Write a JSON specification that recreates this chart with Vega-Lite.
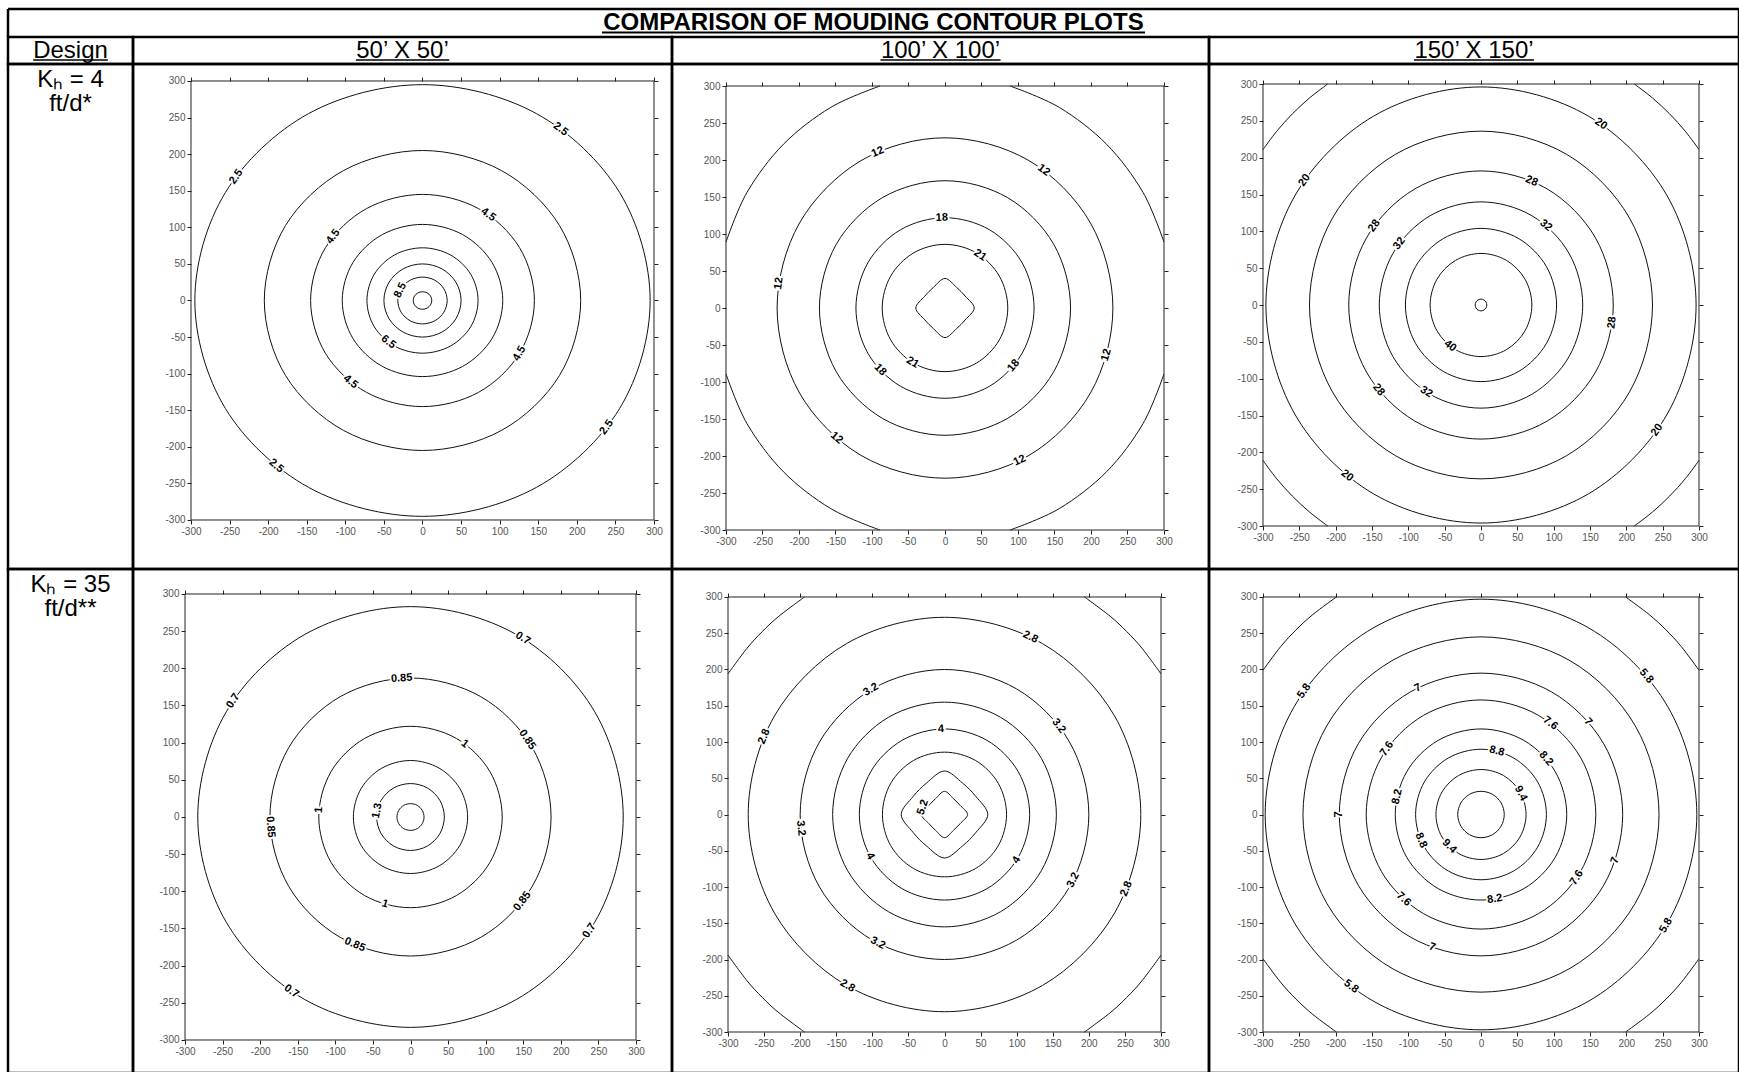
{
"$schema": "https://vega.github.io/schema/vega-lite/v6.json",
"padding": {"left": 6, "top": 7, "right": 0, "bottom": 0},
"background": "white",
"config": {
  "view": {"stroke": "#000", "strokeWidth": 2.5},
  "font": "Liberation Sans",
  "concat": {"spacing": 0},
  "axis": {"domain": false, "grid": false, "ticks": true, "tickSize": 4, "tickColor": "#222", "tickWidth": 1, "labelFontSize": 10, "labelColor": "#555", "labelFont": "Liberation Sans", "labelPadding": 2, "labelFlush": false, "labelOverlap": false, "zindex": 1}
},
"datasets": {
"f": [{"x1": -300, "x2": 300, "y1": -300, "y2": 300}],
"c1": [
{"c":"9.5","i":0,"x":12,"y":0},{"c":"9.5","i":1,"x":10.4,"y":6},{"c":"9.5","i":2,"x":6,"y":10.4},{"c":"9.5","i":3,"x":0,"y":12},{"c":"9.5","i":4,"x":-6,"y":10.4},{"c":"9.5","i":5,"x":-10.4,"y":6},{"c":"9.5","i":6,"x":-12,"y":0},{"c":"9.5","i":7,"x":-10.4,"y":-6},{"c":"9.5","i":8,"x":-6,"y":-10.4},{"c":"9.5","i":9,"x":0,"y":-12},{"c":"9.5","i":10,"x":6,"y":-10.4},{"c":"9.5","i":11,"x":10.4,"y":-6},
{"c":"8.5","i":0,"x":32,"y":0},{"c":"8.5","i":1,"x":27.7,"y":16},{"c":"8.5","i":2,"x":16,"y":27.7},{"c":"8.5","i":3,"x":0,"y":32},{"c":"8.5","i":4,"x":-16,"y":27.7},{"c":"8.5","i":5,"x":-27.7,"y":16},{"c":"8.5","i":6,"x":-32,"y":0},{"c":"8.5","i":7,"x":-27.7,"y":-16},{"c":"8.5","i":8,"x":-16,"y":-27.7},{"c":"8.5","i":9,"x":0,"y":-32},{"c":"8.5","i":10,"x":16,"y":-27.7},{"c":"8.5","i":11,"x":27.7,"y":-16},
{"c":"7.5","i":0,"x":50,"y":0},{"c":"7.5","i":1,"x":43.3,"y":25},{"c":"7.5","i":2,"x":25,"y":43.3},{"c":"7.5","i":3,"x":0,"y":50},{"c":"7.5","i":4,"x":-25,"y":43.3},{"c":"7.5","i":5,"x":-43.3,"y":25},{"c":"7.5","i":6,"x":-50,"y":0},{"c":"7.5","i":7,"x":-43.3,"y":-25},{"c":"7.5","i":8,"x":-25,"y":-43.3},{"c":"7.5","i":9,"x":0,"y":-50},{"c":"7.5","i":10,"x":25,"y":-43.3},{"c":"7.5","i":11,"x":43.3,"y":-25},
{"c":"6.5","i":0,"x":72,"y":0},{"c":"6.5","i":1,"x":62.4,"y":36},{"c":"6.5","i":2,"x":36,"y":62.4},{"c":"6.5","i":3,"x":0,"y":72},{"c":"6.5","i":4,"x":-36,"y":62.4},{"c":"6.5","i":5,"x":-62.4,"y":36},{"c":"6.5","i":6,"x":-72,"y":0},{"c":"6.5","i":7,"x":-62.4,"y":-36},{"c":"6.5","i":8,"x":-36,"y":-62.4},{"c":"6.5","i":9,"x":0,"y":-72},{"c":"6.5","i":10,"x":36,"y":-62.4},{"c":"6.5","i":11,"x":62.4,"y":-36},
{"c":"5.5","i":0,"x":104,"y":0},{"c":"5.5","i":1,"x":90.1,"y":52},{"c":"5.5","i":2,"x":52,"y":90.1},{"c":"5.5","i":3,"x":0,"y":104},{"c":"5.5","i":4,"x":-52,"y":90.1},{"c":"5.5","i":5,"x":-90.1,"y":52},{"c":"5.5","i":6,"x":-104,"y":0},{"c":"5.5","i":7,"x":-90.1,"y":-52},{"c":"5.5","i":8,"x":-52,"y":-90.1},{"c":"5.5","i":9,"x":0,"y":-104},{"c":"5.5","i":10,"x":52,"y":-90.1},{"c":"5.5","i":11,"x":90.1,"y":-52},
{"c":"4.5","i":0,"x":145,"y":0},{"c":"4.5","i":1,"x":125.6,"y":72.5},{"c":"4.5","i":2,"x":72.5,"y":125.6},{"c":"4.5","i":3,"x":0,"y":145},{"c":"4.5","i":4,"x":-72.5,"y":125.6},{"c":"4.5","i":5,"x":-125.6,"y":72.5},{"c":"4.5","i":6,"x":-145,"y":0},{"c":"4.5","i":7,"x":-125.6,"y":-72.5},{"c":"4.5","i":8,"x":-72.5,"y":-125.6},{"c":"4.5","i":9,"x":0,"y":-145},{"c":"4.5","i":10,"x":72.5,"y":-125.6},{"c":"4.5","i":11,"x":125.6,"y":-72.5},
{"c":"3.5","i":0,"x":205,"y":0},{"c":"3.5","i":1,"x":177.5,"y":102.5},{"c":"3.5","i":2,"x":102.5,"y":177.5},{"c":"3.5","i":3,"x":0,"y":205},{"c":"3.5","i":4,"x":-102.5,"y":177.5},{"c":"3.5","i":5,"x":-177.5,"y":102.5},{"c":"3.5","i":6,"x":-205,"y":0},{"c":"3.5","i":7,"x":-177.5,"y":-102.5},{"c":"3.5","i":8,"x":-102.5,"y":-177.5},{"c":"3.5","i":9,"x":0,"y":-205},{"c":"3.5","i":10,"x":102.5,"y":-177.5},{"c":"3.5","i":11,"x":177.5,"y":-102.5},
{"c":"2.5","i":0,"x":295,"y":0},{"c":"2.5","i":1,"x":255.5,"y":147.5},{"c":"2.5","i":2,"x":147.5,"y":255.5},{"c":"2.5","i":3,"x":0,"y":295},{"c":"2.5","i":4,"x":-147.5,"y":255.5},{"c":"2.5","i":5,"x":-255.5,"y":147.5},{"c":"2.5","i":6,"x":-295,"y":0},{"c":"2.5","i":7,"x":-255.5,"y":-147.5},{"c":"2.5","i":8,"x":-147.5,"y":-255.5},{"c":"2.5","i":9,"x":0,"y":-295},{"c":"2.5","i":10,"x":147.5,"y":-255.5},{"c":"2.5","i":11,"x":255.5,"y":-147.5}
],
"l1": [
{"t":"2.5","x":-241.4,"y":169.2},{"t":"2.5","x":179.1,"y":234.2},{"t":"2.5","x":238.6,"y":-173.3},{"t":"2.5","x":-189.6,"y":-226},
{"t":"4.5","x":-115.8,"y":87.3},{"t":"4.5","x":85.2,"y":117.3},{"t":"4.5","x":125.6,"y":-72.5},{"t":"4.5","x":-93.2,"y":-111.1},
{"t":"6.5","x":-44.3,"y":-56.7},{"t":"8.5","x":-28.8,"y":14}
],
"c2": [
{"c":"24","i":0,"x":40,"y":0},{"c":"24","i":1,"x":27.7,"y":16},{"c":"24","i":2,"x":16,"y":27.7},{"c":"24","i":3,"x":0,"y":40},{"c":"24","i":4,"x":-16,"y":27.7},{"c":"24","i":5,"x":-27.7,"y":16},{"c":"24","i":6,"x":-40,"y":0},{"c":"24","i":7,"x":-27.7,"y":-16},{"c":"24","i":8,"x":-16,"y":-27.7},{"c":"24","i":9,"x":0,"y":-40},{"c":"24","i":10,"x":16,"y":-27.7},{"c":"24","i":11,"x":27.7,"y":-16},
{"c":"21","i":0,"x":86,"y":0},{"c":"21","i":1,"x":74.5,"y":43},{"c":"21","i":2,"x":43,"y":74.5},{"c":"21","i":3,"x":0,"y":86},{"c":"21","i":4,"x":-43,"y":74.5},{"c":"21","i":5,"x":-74.5,"y":43},{"c":"21","i":6,"x":-86,"y":0},{"c":"21","i":7,"x":-74.5,"y":-43},{"c":"21","i":8,"x":-43,"y":-74.5},{"c":"21","i":9,"x":0,"y":-86},{"c":"21","i":10,"x":43,"y":-74.5},{"c":"21","i":11,"x":74.5,"y":-43},
{"c":"18","i":0,"x":122,"y":0},{"c":"18","i":1,"x":105.7,"y":61},{"c":"18","i":2,"x":61,"y":105.7},{"c":"18","i":3,"x":0,"y":122},{"c":"18","i":4,"x":-61,"y":105.7},{"c":"18","i":5,"x":-105.7,"y":61},{"c":"18","i":6,"x":-122,"y":0},{"c":"18","i":7,"x":-105.7,"y":-61},{"c":"18","i":8,"x":-61,"y":-105.7},{"c":"18","i":9,"x":0,"y":-122},{"c":"18","i":10,"x":61,"y":-105.7},{"c":"18","i":11,"x":105.7,"y":-61},
{"c":"15","i":0,"x":172,"y":0},{"c":"15","i":1,"x":149,"y":86},{"c":"15","i":2,"x":86,"y":149},{"c":"15","i":3,"x":0,"y":172},{"c":"15","i":4,"x":-86,"y":149},{"c":"15","i":5,"x":-149,"y":86},{"c":"15","i":6,"x":-172,"y":0},{"c":"15","i":7,"x":-149,"y":-86},{"c":"15","i":8,"x":-86,"y":-149},{"c":"15","i":9,"x":0,"y":-172},{"c":"15","i":10,"x":86,"y":-149},{"c":"15","i":11,"x":149,"y":-86},
{"c":"12","i":0,"x":230,"y":0},{"c":"12","i":1,"x":199.2,"y":115},{"c":"12","i":2,"x":115,"y":199.2},{"c":"12","i":3,"x":0,"y":230},{"c":"12","i":4,"x":-115,"y":199.2},{"c":"12","i":5,"x":-199.2,"y":115},{"c":"12","i":6,"x":-230,"y":0},{"c":"12","i":7,"x":-199.2,"y":-115},{"c":"12","i":8,"x":-115,"y":-199.2},{"c":"12","i":9,"x":0,"y":-230},{"c":"12","i":10,"x":115,"y":-199.2},{"c":"12","i":11,"x":199.2,"y":-115}
],
"a2": [
{"c":"q1","i":0,"x":300,"y":89},{"c":"q1","i":1,"x":271.1,"y":156.5},{"c":"q1","i":2,"x":221.3,"y":221.3},{"c":"q1","i":3,"x":156.5,"y":271.1},{"c":"q1","i":4,"x":89,"y":300},
{"c":"q2","i":0,"x":-300,"y":89},{"c":"q2","i":1,"x":-271.1,"y":156.5},{"c":"q2","i":2,"x":-221.3,"y":221.3},{"c":"q2","i":3,"x":-156.5,"y":271.1},{"c":"q2","i":4,"x":-89,"y":300},
{"c":"q3","i":0,"x":-300,"y":-89},{"c":"q3","i":1,"x":-271.1,"y":-156.5},{"c":"q3","i":2,"x":-221.3,"y":-221.3},{"c":"q3","i":3,"x":-156.5,"y":-271.1},{"c":"q3","i":4,"x":-89,"y":-300},
{"c":"q4","i":0,"x":300,"y":-89},{"c":"q4","i":1,"x":271.1,"y":-156.5},{"c":"q4","i":2,"x":221.3,"y":-221.3},{"c":"q4","i":3,"x":156.5,"y":-271.1},{"c":"q4","i":4,"x":89,"y":-300}
],
"l2": [
{"t":"12","x":-92.1,"y":210.8},{"t":"12","x":135.2,"y":186.1},{"t":"12","x":-227.6,"y":33.2},{"t":"12","x":221.1,"y":-63.4},{"t":"12","x":-148.5,"y":-175.7},{"t":"12","x":102.3,"y":-206},
{"t":"18","x":-4.3,"y":121.9},{"t":"18","x":-88.9,"y":-83.5},{"t":"18","x":94,"y":-77.8},
{"t":"21","x":48.1,"y":71.3},{"t":"21","x":-44.3,"y":-73.7}
],
"c3": [
{"c":"44","i":0,"x":8,"y":0},{"c":"44","i":1,"x":6.9,"y":4},{"c":"44","i":2,"x":4,"y":6.9},{"c":"44","i":3,"x":0,"y":8},{"c":"44","i":4,"x":-4,"y":6.9},{"c":"44","i":5,"x":-6.9,"y":4},{"c":"44","i":6,"x":-8,"y":0},{"c":"44","i":7,"x":-6.9,"y":-4},{"c":"44","i":8,"x":-4,"y":-6.9},{"c":"44","i":9,"x":0,"y":-8},{"c":"44","i":10,"x":4,"y":-6.9},{"c":"44","i":11,"x":6.9,"y":-4},
{"c":"40","i":0,"x":70,"y":0},{"c":"40","i":1,"x":60.6,"y":35},{"c":"40","i":2,"x":35,"y":60.6},{"c":"40","i":3,"x":0,"y":70},{"c":"40","i":4,"x":-35,"y":60.6},{"c":"40","i":5,"x":-60.6,"y":35},{"c":"40","i":6,"x":-70,"y":0},{"c":"40","i":7,"x":-60.6,"y":-35},{"c":"40","i":8,"x":-35,"y":-60.6},{"c":"40","i":9,"x":0,"y":-70},{"c":"40","i":10,"x":35,"y":-60.6},{"c":"40","i":11,"x":60.6,"y":-35},
{"c":"36","i":0,"x":104,"y":0},{"c":"36","i":1,"x":90.1,"y":52},{"c":"36","i":2,"x":52,"y":90.1},{"c":"36","i":3,"x":0,"y":104},{"c":"36","i":4,"x":-52,"y":90.1},{"c":"36","i":5,"x":-90.1,"y":52},{"c":"36","i":6,"x":-104,"y":0},{"c":"36","i":7,"x":-90.1,"y":-52},{"c":"36","i":8,"x":-52,"y":-90.1},{"c":"36","i":9,"x":0,"y":-104},{"c":"36","i":10,"x":52,"y":-90.1},{"c":"36","i":11,"x":90.1,"y":-52},
{"c":"32","i":0,"x":140,"y":0},{"c":"32","i":1,"x":121.2,"y":70},{"c":"32","i":2,"x":70,"y":121.2},{"c":"32","i":3,"x":0,"y":140},{"c":"32","i":4,"x":-70,"y":121.2},{"c":"32","i":5,"x":-121.2,"y":70},{"c":"32","i":6,"x":-140,"y":0},{"c":"32","i":7,"x":-121.2,"y":-70},{"c":"32","i":8,"x":-70,"y":-121.2},{"c":"32","i":9,"x":0,"y":-140},{"c":"32","i":10,"x":70,"y":-121.2},{"c":"32","i":11,"x":121.2,"y":-70},
{"c":"28","i":0,"x":182,"y":0},{"c":"28","i":1,"x":157.6,"y":91},{"c":"28","i":2,"x":91,"y":157.6},{"c":"28","i":3,"x":0,"y":182},{"c":"28","i":4,"x":-91,"y":157.6},{"c":"28","i":5,"x":-157.6,"y":91},{"c":"28","i":6,"x":-182,"y":0},{"c":"28","i":7,"x":-157.6,"y":-91},{"c":"28","i":8,"x":-91,"y":-157.6},{"c":"28","i":9,"x":0,"y":-182},{"c":"28","i":10,"x":91,"y":-157.6},{"c":"28","i":11,"x":157.6,"y":-91},
{"c":"24","i":0,"x":236,"y":0},{"c":"24","i":1,"x":204.4,"y":118},{"c":"24","i":2,"x":118,"y":204.4},{"c":"24","i":3,"x":0,"y":236},{"c":"24","i":4,"x":-118,"y":204.4},{"c":"24","i":5,"x":-204.4,"y":118},{"c":"24","i":6,"x":-236,"y":0},{"c":"24","i":7,"x":-204.4,"y":-118},{"c":"24","i":8,"x":-118,"y":-204.4},{"c":"24","i":9,"x":0,"y":-236},{"c":"24","i":10,"x":118,"y":-204.4},{"c":"24","i":11,"x":204.4,"y":-118},
{"c":"20","i":0,"x":296,"y":0},{"c":"20","i":1,"x":256.3,"y":148},{"c":"20","i":2,"x":148,"y":256.3},{"c":"20","i":3,"x":0,"y":296},{"c":"20","i":4,"x":-148,"y":256.3},{"c":"20","i":5,"x":-256.3,"y":148},{"c":"20","i":6,"x":-296,"y":0},{"c":"20","i":7,"x":-256.3,"y":-148},{"c":"20","i":8,"x":-148,"y":-256.3},{"c":"20","i":9,"x":0,"y":-296},{"c":"20","i":10,"x":148,"y":-256.3},{"c":"20","i":11,"x":256.3,"y":-148}
],
"a3": [
{"c":"q1","i":0,"x":300,"y":211},{"c":"q1","i":1,"x":281.1,"y":235.9},{"c":"q1","i":2,"x":259.5,"y":259.5},{"c":"q1","i":3,"x":235.9,"y":281.1},{"c":"q1","i":4,"x":211,"y":300},
{"c":"q2","i":0,"x":-300,"y":211},{"c":"q2","i":1,"x":-281.1,"y":235.9},{"c":"q2","i":2,"x":-259.5,"y":259.5},{"c":"q2","i":3,"x":-235.9,"y":281.1},{"c":"q2","i":4,"x":-211,"y":300},
{"c":"q3","i":0,"x":-300,"y":-211},{"c":"q3","i":1,"x":-281.1,"y":-235.9},{"c":"q3","i":2,"x":-259.5,"y":-259.5},{"c":"q3","i":3,"x":-235.9,"y":-281.1},{"c":"q3","i":4,"x":-211,"y":-300},
{"c":"q4","i":0,"x":300,"y":-211},{"c":"q4","i":1,"x":281.1,"y":-235.9},{"c":"q4","i":2,"x":259.5,"y":-259.5},{"c":"q4","i":3,"x":235.9,"y":-281.1},{"c":"q4","i":4,"x":211,"y":-300}
],
"l3": [
{"t":"20","x":165.2,"y":245.7},{"t":"20","x":-242.7,"y":169.3},{"t":"20","x":-184.3,"y":-231.6},{"t":"20","x":242.4,"y":-169.8},
{"t":"28","x":69.6,"y":168.1},{"t":"28","x":-146.9,"y":107.5},{"t":"28","x":180.4,"y":-23.8},{"t":"28","x":-140.9,"y":-115.3},
{"t":"32","x":-112.4,"y":83.5},{"t":"32","x":89.2,"y":107.9},{"t":"32","x":-75.2,"y":-118.1},
{"t":"40","x":-42.4,"y":-55.6}
],
"c4": [
{"c":"1.45","i":0,"x":18,"y":0},{"c":"1.45","i":1,"x":15.6,"y":9},{"c":"1.45","i":2,"x":9,"y":15.6},{"c":"1.45","i":3,"x":0,"y":18},{"c":"1.45","i":4,"x":-9,"y":15.6},{"c":"1.45","i":5,"x":-15.6,"y":9},{"c":"1.45","i":6,"x":-18,"y":0},{"c":"1.45","i":7,"x":-15.6,"y":-9},{"c":"1.45","i":8,"x":-9,"y":-15.6},{"c":"1.45","i":9,"x":0,"y":-18},{"c":"1.45","i":10,"x":9,"y":-15.6},{"c":"1.45","i":11,"x":15.6,"y":-9},
{"c":"1.3","i":0,"x":45,"y":0},{"c":"1.3","i":1,"x":39,"y":22.5},{"c":"1.3","i":2,"x":22.5,"y":39},{"c":"1.3","i":3,"x":0,"y":45},{"c":"1.3","i":4,"x":-22.5,"y":39},{"c":"1.3","i":5,"x":-39,"y":22.5},{"c":"1.3","i":6,"x":-45,"y":0},{"c":"1.3","i":7,"x":-39,"y":-22.5},{"c":"1.3","i":8,"x":-22.5,"y":-39},{"c":"1.3","i":9,"x":0,"y":-45},{"c":"1.3","i":10,"x":22.5,"y":-39},{"c":"1.3","i":11,"x":39,"y":-22.5},
{"c":"1.15","i":0,"x":76,"y":0},{"c":"1.15","i":1,"x":65.8,"y":38},{"c":"1.15","i":2,"x":38,"y":65.8},{"c":"1.15","i":3,"x":0,"y":76},{"c":"1.15","i":4,"x":-38,"y":65.8},{"c":"1.15","i":5,"x":-65.8,"y":38},{"c":"1.15","i":6,"x":-76,"y":0},{"c":"1.15","i":7,"x":-65.8,"y":-38},{"c":"1.15","i":8,"x":-38,"y":-65.8},{"c":"1.15","i":9,"x":0,"y":-76},{"c":"1.15","i":10,"x":38,"y":-65.8},{"c":"1.15","i":11,"x":65.8,"y":-38},
{"c":"1","i":0,"x":122,"y":0},{"c":"1","i":1,"x":105.7,"y":61},{"c":"1","i":2,"x":61,"y":105.7},{"c":"1","i":3,"x":0,"y":122},{"c":"1","i":4,"x":-61,"y":105.7},{"c":"1","i":5,"x":-105.7,"y":61},{"c":"1","i":6,"x":-122,"y":0},{"c":"1","i":7,"x":-105.7,"y":-61},{"c":"1","i":8,"x":-61,"y":-105.7},{"c":"1","i":9,"x":0,"y":-122},{"c":"1","i":10,"x":61,"y":-105.7},{"c":"1","i":11,"x":105.7,"y":-61},
{"c":"0.85","i":0,"x":187,"y":0},{"c":"0.85","i":1,"x":161.9,"y":93.5},{"c":"0.85","i":2,"x":93.5,"y":161.9},{"c":"0.85","i":3,"x":0,"y":187},{"c":"0.85","i":4,"x":-93.5,"y":161.9},{"c":"0.85","i":5,"x":-161.9,"y":93.5},{"c":"0.85","i":6,"x":-187,"y":0},{"c":"0.85","i":7,"x":-161.9,"y":-93.5},{"c":"0.85","i":8,"x":-93.5,"y":-161.9},{"c":"0.85","i":9,"x":0,"y":-187},{"c":"0.85","i":10,"x":93.5,"y":-161.9},{"c":"0.85","i":11,"x":161.9,"y":-93.5},
{"c":"0.7","i":0,"x":283,"y":0},{"c":"0.7","i":1,"x":245.1,"y":141.5},{"c":"0.7","i":2,"x":141.5,"y":245.1},{"c":"0.7","i":3,"x":0,"y":283},{"c":"0.7","i":4,"x":-141.5,"y":245.1},{"c":"0.7","i":5,"x":-245.1,"y":141.5},{"c":"0.7","i":6,"x":-283,"y":0},{"c":"0.7","i":7,"x":-245.1,"y":-141.5},{"c":"0.7","i":8,"x":-141.5,"y":-245.1},{"c":"0.7","i":9,"x":0,"y":-283},{"c":"0.7","i":10,"x":141.5,"y":-245.1},{"c":"0.7","i":11,"x":245.1,"y":-141.5}
],
"l4": [
{"t":"0.7","x":149.5,"y":240.3},{"t":"0.7","x":-236,"y":156.2},{"t":"0.7","x":238.1,"y":-152.9},{"t":"0.7","x":-158.3,"y":-234.6},
{"t":"0.85","x":-11.7,"y":186.6},{"t":"0.85","x":155.4,"y":104},{"t":"0.85","x":-186.5,"y":-13.4},{"t":"0.85","x":148.8,"y":-113.3},{"t":"0.85","x":-74,"y":-171.8},
{"t":"1","x":72.1,"y":98.5},{"t":"1","x":-121.6,"y":9.6},{"t":"1","x":-34,"y":-117.1},
{"t":"1.3","x":-44.2,"y":8.3}
],
"c5": [
{"c":"5.2","i":0,"x":32,"y":0},{"c":"5.2","i":1,"x":21.7,"y":12.5},{"c":"5.2","i":2,"x":12.5,"y":21.7},{"c":"5.2","i":3,"x":0,"y":32},{"c":"5.2","i":4,"x":-12.5,"y":21.7},{"c":"5.2","i":5,"x":-21.7,"y":12.5},{"c":"5.2","i":6,"x":-32,"y":0},{"c":"5.2","i":7,"x":-21.7,"y":-12.5},{"c":"5.2","i":8,"x":-12.5,"y":-21.7},{"c":"5.2","i":9,"x":0,"y":-32},{"c":"5.2","i":10,"x":12.5,"y":-21.7},{"c":"5.2","i":11,"x":21.7,"y":-12.5},
{"c":"4.8","i":0,"x":60,"y":0},{"c":"4.8","i":1,"x":43.3,"y":25},{"c":"4.8","i":2,"x":25,"y":43.3},{"c":"4.8","i":3,"x":0,"y":60},{"c":"4.8","i":4,"x":-25,"y":43.3},{"c":"4.8","i":5,"x":-43.3,"y":25},{"c":"4.8","i":6,"x":-60,"y":0},{"c":"4.8","i":7,"x":-43.3,"y":-25},{"c":"4.8","i":8,"x":-25,"y":-43.3},{"c":"4.8","i":9,"x":0,"y":-60},{"c":"4.8","i":10,"x":25,"y":-43.3},{"c":"4.8","i":11,"x":43.3,"y":-25},
{"c":"4.4","i":0,"x":86,"y":0},{"c":"4.4","i":1,"x":74.5,"y":43},{"c":"4.4","i":2,"x":43,"y":74.5},{"c":"4.4","i":3,"x":0,"y":86},{"c":"4.4","i":4,"x":-43,"y":74.5},{"c":"4.4","i":5,"x":-74.5,"y":43},{"c":"4.4","i":6,"x":-86,"y":0},{"c":"4.4","i":7,"x":-74.5,"y":-43},{"c":"4.4","i":8,"x":-43,"y":-74.5},{"c":"4.4","i":9,"x":0,"y":-86},{"c":"4.4","i":10,"x":43,"y":-74.5},{"c":"4.4","i":11,"x":74.5,"y":-43},
{"c":"4","i":0,"x":118,"y":0},{"c":"4","i":1,"x":102.2,"y":59},{"c":"4","i":2,"x":59,"y":102.2},{"c":"4","i":3,"x":0,"y":118},{"c":"4","i":4,"x":-59,"y":102.2},{"c":"4","i":5,"x":-102.2,"y":59},{"c":"4","i":6,"x":-118,"y":0},{"c":"4","i":7,"x":-102.2,"y":-59},{"c":"4","i":8,"x":-59,"y":-102.2},{"c":"4","i":9,"x":0,"y":-118},{"c":"4","i":10,"x":59,"y":-102.2},{"c":"4","i":11,"x":102.2,"y":-59},
{"c":"3.6","i":0,"x":155,"y":0},{"c":"3.6","i":1,"x":134.2,"y":77.5},{"c":"3.6","i":2,"x":77.5,"y":134.2},{"c":"3.6","i":3,"x":0,"y":155},{"c":"3.6","i":4,"x":-77.5,"y":134.2},{"c":"3.6","i":5,"x":-134.2,"y":77.5},{"c":"3.6","i":6,"x":-155,"y":0},{"c":"3.6","i":7,"x":-134.2,"y":-77.5},{"c":"3.6","i":8,"x":-77.5,"y":-134.2},{"c":"3.6","i":9,"x":0,"y":-155},{"c":"3.6","i":10,"x":77.5,"y":-134.2},{"c":"3.6","i":11,"x":134.2,"y":-77.5},
{"c":"3.2","i":0,"x":200,"y":0},{"c":"3.2","i":1,"x":173.2,"y":100},{"c":"3.2","i":2,"x":100,"y":173.2},{"c":"3.2","i":3,"x":0,"y":200},{"c":"3.2","i":4,"x":-100,"y":173.2},{"c":"3.2","i":5,"x":-173.2,"y":100},{"c":"3.2","i":6,"x":-200,"y":0},{"c":"3.2","i":7,"x":-173.2,"y":-100},{"c":"3.2","i":8,"x":-100,"y":-173.2},{"c":"3.2","i":9,"x":0,"y":-200},{"c":"3.2","i":10,"x":100,"y":-173.2},{"c":"3.2","i":11,"x":173.2,"y":-100},
{"c":"2.8","i":0,"x":272,"y":0},{"c":"2.8","i":1,"x":235.6,"y":136},{"c":"2.8","i":2,"x":136,"y":235.6},{"c":"2.8","i":3,"x":0,"y":272},{"c":"2.8","i":4,"x":-136,"y":235.6},{"c":"2.8","i":5,"x":-235.6,"y":136},{"c":"2.8","i":6,"x":-272,"y":0},{"c":"2.8","i":7,"x":-235.6,"y":-136},{"c":"2.8","i":8,"x":-136,"y":-235.6},{"c":"2.8","i":9,"x":0,"y":-272},{"c":"2.8","i":10,"x":136,"y":-235.6},{"c":"2.8","i":11,"x":235.6,"y":-136}
],
"a5": [
{"c":"q1","i":0,"x":300,"y":194},{"c":"q1","i":1,"x":273.5,"y":229.5},{"c":"q1","i":2,"x":252.4,"y":252.4},{"c":"q1","i":3,"x":229.5,"y":273.5},{"c":"q1","i":4,"x":194,"y":300},
{"c":"q2","i":0,"x":-300,"y":194},{"c":"q2","i":1,"x":-273.5,"y":229.5},{"c":"q2","i":2,"x":-252.4,"y":252.4},{"c":"q2","i":3,"x":-229.5,"y":273.5},{"c":"q2","i":4,"x":-194,"y":300},
{"c":"q3","i":0,"x":-300,"y":-194},{"c":"q3","i":1,"x":-273.5,"y":-229.5},{"c":"q3","i":2,"x":-252.4,"y":-252.4},{"c":"q3","i":3,"x":-229.5,"y":-273.5},{"c":"q3","i":4,"x":-194,"y":-300},
{"c":"q4","i":0,"x":300,"y":-194},{"c":"q4","i":1,"x":273.5,"y":-229.5},{"c":"q4","i":2,"x":252.4,"y":-252.4},{"c":"q4","i":3,"x":229.5,"y":-273.5},{"c":"q4","i":4,"x":194,"y":-300}
],
"l5": [
{"t":"2.8","x":119.2,"y":244.5},{"t":"2.8","x":-249.8,"y":107.6},{"t":"2.8","x":252,"y":-102.3},{"t":"2.8","x":-134.4,"y":-236.5},
{"t":"3.2","x":-102.1,"y":172},{"t":"3.2","x":158.4,"y":122},{"t":"3.2","x":-199.1,"y":-18.8},{"t":"3.2","x":178.4,"y":-90.5},{"t":"3.2","x":-92.3,"y":-177.4},
{"t":"4","x":-4.9,"y":117.9},{"t":"4","x":-103.1,"y":-57.4},{"t":"4","x":99.9,"y":-62.7},
{"t":"5.2","x":-30,"y":10}
],
"c6": [
{"c":"10","i":0,"x":32,"y":0},{"c":"10","i":1,"x":27.7,"y":16},{"c":"10","i":2,"x":16,"y":27.7},{"c":"10","i":3,"x":0,"y":32},{"c":"10","i":4,"x":-16,"y":27.7},{"c":"10","i":5,"x":-27.7,"y":16},{"c":"10","i":6,"x":-32,"y":0},{"c":"10","i":7,"x":-27.7,"y":-16},{"c":"10","i":8,"x":-16,"y":-27.7},{"c":"10","i":9,"x":0,"y":-32},{"c":"10","i":10,"x":16,"y":-27.7},{"c":"10","i":11,"x":27.7,"y":-16},
{"c":"9.4","i":0,"x":62,"y":0},{"c":"9.4","i":1,"x":53.7,"y":31},{"c":"9.4","i":2,"x":31,"y":53.7},{"c":"9.4","i":3,"x":0,"y":62},{"c":"9.4","i":4,"x":-31,"y":53.7},{"c":"9.4","i":5,"x":-53.7,"y":31},{"c":"9.4","i":6,"x":-62,"y":0},{"c":"9.4","i":7,"x":-53.7,"y":-31},{"c":"9.4","i":8,"x":-31,"y":-53.7},{"c":"9.4","i":9,"x":0,"y":-62},{"c":"9.4","i":10,"x":31,"y":-53.7},{"c":"9.4","i":11,"x":53.7,"y":-31},
{"c":"8.8","i":0,"x":90,"y":0},{"c":"8.8","i":1,"x":77.9,"y":45},{"c":"8.8","i":2,"x":45,"y":77.9},{"c":"8.8","i":3,"x":0,"y":90},{"c":"8.8","i":4,"x":-45,"y":77.9},{"c":"8.8","i":5,"x":-77.9,"y":45},{"c":"8.8","i":6,"x":-90,"y":0},{"c":"8.8","i":7,"x":-77.9,"y":-45},{"c":"8.8","i":8,"x":-45,"y":-77.9},{"c":"8.8","i":9,"x":0,"y":-90},{"c":"8.8","i":10,"x":45,"y":-77.9},{"c":"8.8","i":11,"x":77.9,"y":-45},
{"c":"8.2","i":0,"x":118,"y":0},{"c":"8.2","i":1,"x":102.2,"y":59},{"c":"8.2","i":2,"x":59,"y":102.2},{"c":"8.2","i":3,"x":0,"y":118},{"c":"8.2","i":4,"x":-59,"y":102.2},{"c":"8.2","i":5,"x":-102.2,"y":59},{"c":"8.2","i":6,"x":-118,"y":0},{"c":"8.2","i":7,"x":-102.2,"y":-59},{"c":"8.2","i":8,"x":-59,"y":-102.2},{"c":"8.2","i":9,"x":0,"y":-118},{"c":"8.2","i":10,"x":59,"y":-102.2},{"c":"8.2","i":11,"x":102.2,"y":-59},
{"c":"7.6","i":0,"x":158,"y":0},{"c":"7.6","i":1,"x":136.8,"y":79},{"c":"7.6","i":2,"x":79,"y":136.8},{"c":"7.6","i":3,"x":0,"y":158},{"c":"7.6","i":4,"x":-79,"y":136.8},{"c":"7.6","i":5,"x":-136.8,"y":79},{"c":"7.6","i":6,"x":-158,"y":0},{"c":"7.6","i":7,"x":-136.8,"y":-79},{"c":"7.6","i":8,"x":-79,"y":-136.8},{"c":"7.6","i":9,"x":0,"y":-158},{"c":"7.6","i":10,"x":79,"y":-136.8},{"c":"7.6","i":11,"x":136.8,"y":-79},
{"c":"7","i":0,"x":195,"y":0},{"c":"7","i":1,"x":168.9,"y":97.5},{"c":"7","i":2,"x":97.5,"y":168.9},{"c":"7","i":3,"x":0,"y":195},{"c":"7","i":4,"x":-97.5,"y":168.9},{"c":"7","i":5,"x":-168.9,"y":97.5},{"c":"7","i":6,"x":-195,"y":0},{"c":"7","i":7,"x":-168.9,"y":-97.5},{"c":"7","i":8,"x":-97.5,"y":-168.9},{"c":"7","i":9,"x":0,"y":-195},{"c":"7","i":10,"x":97.5,"y":-168.9},{"c":"7","i":11,"x":168.9,"y":-97.5},
{"c":"6.4","i":0,"x":245,"y":0},{"c":"6.4","i":1,"x":212.2,"y":122.5},{"c":"6.4","i":2,"x":122.5,"y":212.2},{"c":"6.4","i":3,"x":0,"y":245},{"c":"6.4","i":4,"x":-122.5,"y":212.2},{"c":"6.4","i":5,"x":-212.2,"y":122.5},{"c":"6.4","i":6,"x":-245,"y":0},{"c":"6.4","i":7,"x":-212.2,"y":-122.5},{"c":"6.4","i":8,"x":-122.5,"y":-212.2},{"c":"6.4","i":9,"x":0,"y":-245},{"c":"6.4","i":10,"x":122.5,"y":-212.2},{"c":"6.4","i":11,"x":212.2,"y":-122.5},
{"c":"5.8","i":0,"x":297,"y":0},{"c":"5.8","i":1,"x":257.2,"y":148.5},{"c":"5.8","i":2,"x":148.5,"y":257.2},{"c":"5.8","i":3,"x":0,"y":297},{"c":"5.8","i":4,"x":-148.5,"y":257.2},{"c":"5.8","i":5,"x":-257.2,"y":148.5},{"c":"5.8","i":6,"x":-297,"y":0},{"c":"5.8","i":7,"x":-257.2,"y":-148.5},{"c":"5.8","i":8,"x":-148.5,"y":-257.2},{"c":"5.8","i":9,"x":0,"y":-297},{"c":"5.8","i":10,"x":148.5,"y":-257.2},{"c":"5.8","i":11,"x":257.2,"y":-148.5}
],
"a6": [
{"c":"q1","i":0,"x":300,"y":199},{"c":"q1","i":1,"x":275.8,"y":231.4},{"c":"q1","i":2,"x":254.6,"y":254.6},{"c":"q1","i":3,"x":231.4,"y":275.8},{"c":"q1","i":4,"x":199,"y":300},
{"c":"q2","i":0,"x":-300,"y":199},{"c":"q2","i":1,"x":-275.8,"y":231.4},{"c":"q2","i":2,"x":-254.6,"y":254.6},{"c":"q2","i":3,"x":-231.4,"y":275.8},{"c":"q2","i":4,"x":-199,"y":300},
{"c":"q3","i":0,"x":-300,"y":-199},{"c":"q3","i":1,"x":-275.8,"y":-231.4},{"c":"q3","i":2,"x":-254.6,"y":-254.6},{"c":"q3","i":3,"x":-231.4,"y":-275.8},{"c":"q3","i":4,"x":-199,"y":-300},
{"c":"q4","i":0,"x":300,"y":-199},{"c":"q4","i":1,"x":275.8,"y":-231.4},{"c":"q4","i":2,"x":254.6,"y":-254.6},{"c":"q4","i":3,"x":231.4,"y":-275.8},{"c":"q4","i":4,"x":199,"y":-300}
],
"l6": [
{"t":"5.8","x":227.5,"y":190.9},{"t":"5.8","x":-243.3,"y":170.4},{"t":"5.8","x":254.6,"y":-153},{"t":"5.8","x":-178.7,"y":-237.2},
{"t":"7","x":-86.7,"y":174.7},{"t":"7","x":147.2,"y":127.9},{"t":"7","x":-195,"y":0},{"t":"7","x":184.5,"y":-63.2},{"t":"7","x":-67.3,"y":-183},
{"t":"7.6","x":95.5,"y":125.8},{"t":"7.6","x":-129.4,"y":90.6},{"t":"7.6","x":131.8,"y":-87.2},{"t":"7.6","x":-106.3,"y":-116.9},
{"t":"8.2","x":-115.4,"y":24.5},{"t":"8.2","x":89.4,"y":77.1},{"t":"8.2","x":18.9,"y":-116.5},
{"t":"8.8","x":21.8,"y":87.3},{"t":"8.8","x":-82.6,"y":-35.7},
{"t":"9.4","x":54.7,"y":29.1},{"t":"9.4","x":-43.8,"y":-43.8}
]
},
"concat": [
  {"width": 125, "height": 28, "view": {"stroke": null}, "data": {"values": [{}]},
   "layer": [
    {"mark": {"type": "rule", "color": "#000", "strokeWidth": 2.5}, "encoding": {"x": {"datum": 0, "type": "quantitative", "scale": {"domain": [0, 1]}, "axis": null}, "x2": {"datum": 1}, "y": {"datum": 1, "type": "quantitative", "scale": {"domain": [0, 1]}, "axis": null}}},
    {"mark": {"type": "rule", "color": "#000", "strokeWidth": 2.5}, "encoding": {"x": {"datum": 0, "type": "quantitative", "scale": {"domain": [0, 1]}, "axis": null}, "y": {"datum": 0, "type": "quantitative", "scale": {"domain": [0, 1]}, "axis": null}, "y2": {"datum": 1}}}
   ]},
  {"width": 539, "height": 28, "view": {"stroke": null}, "data": {"values": [{}]},
   "layer": [
    {"mark": {"type": "rule", "color": "#000", "strokeWidth": 2.5}, "encoding": {"x": {"datum": 0, "type": "quantitative", "scale": {"domain": [0, 1]}, "axis": null}, "x2": {"datum": 1}, "y": {"datum": 1, "type": "quantitative", "scale": {"domain": [0, 1]}, "axis": null}}}
   ]},
  {"width": 537, "height": 28, "view": {"stroke": null}, "data": {"values": [{}]},
   "layer": [
    {"mark": {"type": "rule", "color": "#000", "strokeWidth": 2.5}, "encoding": {"x": {"datum": 0, "type": "quantitative", "scale": {"domain": [0, 1]}, "axis": null}, "x2": {"datum": 1}, "y": {"datum": 1, "type": "quantitative", "scale": {"domain": [0, 1]}, "axis": null}}},
    {"data": {"values": [{"t": "COMPARISON OF MOUDING CONTOUR PLOTS"}]}, "mark": {"type": "text", "fontSize": 24, "fontWeight": "bold", "baseline": "middle", "color": "#000"}, "encoding": {"text": {"field": "t"}, "x": {"datum": 0.3752, "type": "quantitative", "scale": {"domain": [0, 1]}, "axis": null}}},
    {"mark": {"type": "rule", "color": "#000", "strokeWidth": 2}, "encoding": {"x": {"datum": -0.1304, "type": "quantitative", "scale": {"domain": [0, 1]}, "axis": null}, "x2": {"datum": 0.8808}, "y": {"datum": 0.16, "type": "quantitative", "scale": {"domain": [0, 1]}, "axis": null}}}
   ]},
  {"width": 530, "height": 28, "view": {"stroke": null}, "data": {"values": [{}]},
   "layer": [
    {"mark": {"type": "rule", "color": "#000", "strokeWidth": 2.5}, "encoding": {"x": {"datum": 0, "type": "quantitative", "scale": {"domain": [0, 1]}, "axis": null}, "x2": {"datum": 1}, "y": {"datum": 1, "type": "quantitative", "scale": {"domain": [0, 1]}, "axis": null}}},
    {"mark": {"type": "rule", "color": "#000", "strokeWidth": 2.5}, "encoding": {"x": {"datum": 1, "type": "quantitative", "scale": {"domain": [0, 1]}, "axis": null}, "y": {"datum": 0, "type": "quantitative", "scale": {"domain": [0, 1]}, "axis": null}, "y2": {"datum": 1}}}
   ]},
  {"width": 125, "height": 27, "data": {"values": [{}]},
   "layer": [
    {"data": {"values": [{"t": "Design"}]}, "mark": {"type": "text", "fontSize": 24, "baseline": "middle", "color": "#000"}, "encoding": {"text": {"field": "t"}}},
    {"mark": {"type": "rule", "color": "#000", "strokeWidth": 1.5}, "encoding": {"x": {"datum": 0.2012, "type": "quantitative", "scale": {"domain": [0, 1]}, "axis": null}, "x2": {"datum": 0.7988}, "y": {"datum": -0.7, "type": "quantitative", "scale": {"domain": [-1, 1]}, "axis": null}}}
   ]},
  {"width": 539, "height": 27, "data": {"values": [{}]},
   "layer": [
    {"data": {"values": [{"t": "50’ X 50’"}]}, "mark": {"type": "text", "fontSize": 24, "baseline": "middle", "color": "#000"}, "encoding": {"text": {"field": "t"}}},
    {"mark": {"type": "rule", "color": "#000", "strokeWidth": 1.5}, "encoding": {"x": {"datum": 0.4134, "type": "quantitative", "scale": {"domain": [0, 1]}, "axis": null}, "x2": {"datum": 0.5866}, "y": {"datum": -0.7, "type": "quantitative", "scale": {"domain": [-1, 1]}, "axis": null}}}
   ]},
  {"width": 537, "height": 27, "data": {"values": [{}]},
   "layer": [
    {"data": {"values": [{"t": "100’ X 100’"}]}, "mark": {"type": "text", "fontSize": 24, "baseline": "middle", "color": "#000"}, "encoding": {"text": {"field": "t"}}},
    {"mark": {"type": "rule", "color": "#000", "strokeWidth": 1.5}, "encoding": {"x": {"datum": 0.3882, "type": "quantitative", "scale": {"domain": [0, 1]}, "axis": null}, "x2": {"datum": 0.6118}, "y": {"datum": -0.7, "type": "quantitative", "scale": {"domain": [-1, 1]}, "axis": null}}}
   ]},
  {"width": 530, "height": 27, "data": {"values": [{}]},
   "layer": [
    {"data": {"values": [{"t": "150’ X 150’"}]}, "mark": {"type": "text", "fontSize": 24, "baseline": "middle", "color": "#000"}, "encoding": {"text": {"field": "t"}}},
    {"mark": {"type": "rule", "color": "#000", "strokeWidth": 1.5}, "encoding": {"x": {"datum": 0.3867, "type": "quantitative", "scale": {"domain": [0, 1]}, "axis": null}, "x2": {"datum": 0.6133}, "y": {"datum": -0.7, "type": "quantitative", "scale": {"domain": [-1, 1]}, "axis": null}}}
   ]},
  {"width": 125, "height": 505, "data": {"values": [{"t": "Kₕ = 4", "ln": 0}, {"t": "ft/d*", "ln": 1}]},
   "mark": {"type": "text", "fontSize": 24, "baseline": "alphabetic", "color": "#000"},
   "encoding": {"text": {"field": "t"}, "y": {"field": "ln", "type": "quantitative", "scale": {"domain": [-0.958, 20.083], "reverse": true, "nice": false, "zero": false}, "axis": null}}},
  {"width": 539, "height": 505,
   "resolve": {"axis": {"x": "independent", "y": "independent"}},
   "layer": [
    {"data": {"name": "c1"}, "mark": {"type": "line", "interpolate": "cardinal-closed", "stroke": "#111", "strokeWidth": 1, "clip": true},
     "encoding": {"x": {"field": "x", "type": "quantitative", "scale": {"domain": [-375.16, 323.33], "nice": false, "zero": false}, "axis": {"orient": "bottom", "offset": -49, "values": [-300,-250,-200,-150,-100,-50,0,50,100,150,200,250,300], "labelExpr": "''+datum.value", "title": null}},
                  "y": {"field": "y", "type": "quantitative", "scale": {"domain": [-366.98, 323.23], "nice": false, "zero": false}, "axis": {"orient": "left", "offset": -58, "values": [-300,-250,-200,-150,-100,-50,0,50,100,150,200,250,300], "labelExpr": "''+datum.value", "title": null}},
                  "detail": {"field": "c"}, "order": {"field": "i", "type": "quantitative"}}},
    {"data": {"name": "f"}, "mark": {"type": "rect", "filled": false, "stroke": "#222", "strokeWidth": 1},
     "encoding": {"x": {"field": "x1", "type": "quantitative", "scale": {"domain": [-375.16, 323.33], "nice": false, "zero": false}, "axis": {"orient": "top", "offset": -17, "values": [-300,-250,-200,-150,-100,-50,0,50,100,150,200,250,300], "labels": false, "title": null}}, "x2": {"field": "x2"},
                  "y": {"field": "y1", "type": "quantitative", "scale": {"domain": [-366.98, 323.23], "nice": false, "zero": false}, "axis": {"orient": "right", "offset": -18, "values": [-300,-250,-200,-150,-100,-50,0,50,100,150,200,250,300], "labels": false, "title": null}}, "y2": {"field": "y2"}}},
    {"data": {"name": "l1"}, "transform": [{"calculate": "90 - atan2(datum.y, datum.x) * 180 / PI", "as": "t0"}, {"calculate": "datum.t0 > 90 ? datum.t0 - 180 : datum.t0", "as": "rot"}],
     "mark": {"type": "text", "fontSize": 11, "fontWeight": "bold", "stroke": "white", "strokeWidth": 3.5, "fill": "white", "baseline": "middle"},
     "encoding": {"x": {"field": "x", "type": "quantitative", "scale": {"domain": [-375.16, 323.33], "nice": false, "zero": false}, "axis": null}, "y": {"field": "y", "type": "quantitative", "scale": {"domain": [-366.98, 323.23], "nice": false, "zero": false}, "axis": null}, "text": {"field": "t"}, "angle": {"field": "rot", "type": "quantitative", "scale": null}}},
    {"data": {"name": "l1"}, "transform": [{"calculate": "90 - atan2(datum.y, datum.x) * 180 / PI", "as": "t0"}, {"calculate": "datum.t0 > 90 ? datum.t0 - 180 : datum.t0", "as": "rot"}],
     "mark": {"type": "text", "fontSize": 11, "fontWeight": "bold", "fill": "#000", "baseline": "middle"},
     "encoding": {"x": {"field": "x", "type": "quantitative", "scale": {"domain": [-375.16, 323.33], "nice": false, "zero": false}, "axis": null}, "y": {"field": "y", "type": "quantitative", "scale": {"domain": [-366.98, 323.23], "nice": false, "zero": false}, "axis": null}, "text": {"field": "t"}, "angle": {"field": "rot", "type": "quantitative", "scale": null}}}
   ]},
  {"width": 537, "height": 505,
   "resolve": {"axis": {"x": "independent", "y": "independent"}},
   "layer": [
    {"data": {"name": "c2"}, "mark": {"type": "line", "interpolate": "cardinal-closed", "stroke": "#111", "strokeWidth": 1, "clip": true},
     "encoding": {"x": {"field": "x", "type": "quantitative", "scale": {"domain": [-373.97, 361.65], "nice": false, "zero": false}, "axis": {"orient": "bottom", "offset": -39, "values": [-300,-250,-200,-150,-100,-50,0,50,100,150,200,250,300], "labelExpr": "''+datum.value", "title": null}},
                  "y": {"field": "y", "type": "quantitative", "scale": {"domain": [-352.70, 329.73], "nice": false, "zero": false}, "axis": {"orient": "left", "offset": -54, "values": [-300,-250,-200,-150,-100,-50,0,50,100,150,200,250,300], "labelExpr": "''+datum.value", "title": null}},
                  "detail": {"field": "c"}, "order": {"field": "i", "type": "quantitative"}}},
    {"data": {"name": "a2"}, "mark": {"type": "line", "interpolate": "cardinal", "stroke": "#111", "strokeWidth": 1, "clip": true},
     "encoding": {"x": {"field": "x", "type": "quantitative", "scale": {"domain": [-373.97, 361.65], "nice": false, "zero": false}, "axis": null},
                  "y": {"field": "y", "type": "quantitative", "scale": {"domain": [-352.70, 329.73], "nice": false, "zero": false}, "axis": null},
                  "detail": {"field": "c"}, "order": {"field": "i", "type": "quantitative"}}},
    {"data": {"name": "f"}, "mark": {"type": "rect", "filled": false, "stroke": "#222", "strokeWidth": 1},
     "encoding": {"x": {"field": "x1", "type": "quantitative", "scale": {"domain": [-373.97, 361.65], "nice": false, "zero": false}, "axis": {"orient": "top", "offset": -22, "values": [-300,-250,-200,-150,-100,-50,0,50,100,150,200,250,300], "labels": false, "title": null}}, "x2": {"field": "x2"},
                  "y": {"field": "y1", "type": "quantitative", "scale": {"domain": [-352.70, 329.73], "nice": false, "zero": false}, "axis": {"orient": "right", "offset": -45, "values": [-300,-250,-200,-150,-100,-50,0,50,100,150,200,250,300], "labels": false, "title": null}}, "y2": {"field": "y2"}}},
    {"data": {"name": "l2"}, "transform": [{"calculate": "90 - atan2(datum.y, datum.x) * 180 / PI", "as": "t0"}, {"calculate": "datum.t0 > 90 ? datum.t0 - 180 : datum.t0", "as": "rot"}],
     "mark": {"type": "text", "fontSize": 11, "fontWeight": "bold", "stroke": "white", "strokeWidth": 3.5, "fill": "white", "baseline": "middle"},
     "encoding": {"x": {"field": "x", "type": "quantitative", "scale": {"domain": [-373.97, 361.65], "nice": false, "zero": false}, "axis": null}, "y": {"field": "y", "type": "quantitative", "scale": {"domain": [-352.70, 329.73], "nice": false, "zero": false}, "axis": null}, "text": {"field": "t"}, "angle": {"field": "rot", "type": "quantitative", "scale": null}}},
    {"data": {"name": "l2"}, "transform": [{"calculate": "90 - atan2(datum.y, datum.x) * 180 / PI", "as": "t0"}, {"calculate": "datum.t0 > 90 ? datum.t0 - 180 : datum.t0", "as": "rot"}],
     "mark": {"type": "text", "fontSize": 11, "fontWeight": "bold", "fill": "#000", "baseline": "middle"},
     "encoding": {"x": {"field": "x", "type": "quantitative", "scale": {"domain": [-373.97, 361.65], "nice": false, "zero": false}, "axis": null}, "y": {"field": "y", "type": "quantitative", "scale": {"domain": [-352.70, 329.73], "nice": false, "zero": false}, "axis": null}, "text": {"field": "t"}, "angle": {"field": "rot", "type": "quantitative", "scale": null}}}
   ]},
  {"width": 530, "height": 505,
   "resolve": {"axis": {"x": "independent", "y": "independent"}},
   "layer": [
    {"data": {"name": "c3"}, "mark": {"type": "line", "interpolate": "cardinal-closed", "stroke": "#111", "strokeWidth": 1, "clip": true},
     "encoding": {"x": {"field": "x", "type": "quantitative", "scale": {"domain": [-374.31, 355.05], "nice": false, "zero": false}, "axis": {"orient": "bottom", "offset": -43, "values": [-300,-250,-200,-150,-100,-50,0,50,100,150,200,250,300], "labelExpr": "''+datum.value", "title": null}},
                  "y": {"field": "y", "type": "quantitative", "scale": {"domain": [-358.37, 327.15], "nice": false, "zero": false}, "axis": {"orient": "left", "offset": -54, "values": [-300,-250,-200,-150,-100,-50,0,50,100,150,200,250,300], "labelExpr": "''+datum.value", "title": null}},
                  "detail": {"field": "c"}, "order": {"field": "i", "type": "quantitative"}}},
    {"data": {"name": "a3"}, "mark": {"type": "line", "interpolate": "cardinal", "stroke": "#111", "strokeWidth": 1, "clip": true},
     "encoding": {"x": {"field": "x", "type": "quantitative", "scale": {"domain": [-374.31, 355.05], "nice": false, "zero": false}, "axis": null},
                  "y": {"field": "y", "type": "quantitative", "scale": {"domain": [-358.37, 327.15], "nice": false, "zero": false}, "axis": null},
                  "detail": {"field": "c"}, "order": {"field": "i", "type": "quantitative"}}},
    {"data": {"name": "f"}, "mark": {"type": "rect", "filled": false, "stroke": "#222", "strokeWidth": 1},
     "encoding": {"x": {"field": "x1", "type": "quantitative", "scale": {"domain": [-374.31, 355.05], "nice": false, "zero": false}, "axis": {"orient": "top", "offset": -20, "values": [-300,-250,-200,-150,-100,-50,0,50,100,150,200,250,300], "labels": false, "title": null}}, "x2": {"field": "x2"},
                  "y": {"field": "y1", "type": "quantitative", "scale": {"domain": [-358.37, 327.15], "nice": false, "zero": false}, "axis": {"orient": "right", "offset": -40, "values": [-300,-250,-200,-150,-100,-50,0,50,100,150,200,250,300], "labels": false, "title": null}}, "y2": {"field": "y2"}}},
    {"data": {"name": "l3"}, "transform": [{"calculate": "90 - atan2(datum.y, datum.x) * 180 / PI", "as": "t0"}, {"calculate": "datum.t0 > 90 ? datum.t0 - 180 : datum.t0", "as": "rot"}],
     "mark": {"type": "text", "fontSize": 11, "fontWeight": "bold", "stroke": "white", "strokeWidth": 3.5, "fill": "white", "baseline": "middle"},
     "encoding": {"x": {"field": "x", "type": "quantitative", "scale": {"domain": [-374.31, 355.05], "nice": false, "zero": false}, "axis": null}, "y": {"field": "y", "type": "quantitative", "scale": {"domain": [-358.37, 327.15], "nice": false, "zero": false}, "axis": null}, "text": {"field": "t"}, "angle": {"field": "rot", "type": "quantitative", "scale": null}}},
    {"data": {"name": "l3"}, "transform": [{"calculate": "90 - atan2(datum.y, datum.x) * 180 / PI", "as": "t0"}, {"calculate": "datum.t0 > 90 ? datum.t0 - 180 : datum.t0", "as": "rot"}],
     "mark": {"type": "text", "fontSize": 11, "fontWeight": "bold", "fill": "#000", "baseline": "middle"},
     "encoding": {"x": {"field": "x", "type": "quantitative", "scale": {"domain": [-374.31, 355.05], "nice": false, "zero": false}, "axis": null}, "y": {"field": "y", "type": "quantitative", "scale": {"domain": [-358.37, 327.15], "nice": false, "zero": false}, "axis": null}, "text": {"field": "t"}, "angle": {"field": "rot", "type": "quantitative", "scale": null}}}
   ]},
  {"width": 125, "height": 504, "data": {"values": [{"t": "Kₕ = 35", "ln": 0}, {"t": "ft/d**", "ln": 1}]},
   "mark": {"type": "text", "fontSize": 24, "baseline": "alphabetic", "color": "#000"},
   "encoding": {"text": {"field": "t"}, "y": {"field": "ln", "type": "quantitative", "scale": {"domain": [-0.958, 20.042], "reverse": true, "nice": false, "zero": false}, "axis": null}}},
  {"width": 539, "height": 504,
   "resolve": {"axis": {"x": "independent", "y": "independent"}},
   "layer": [
    {"data": {"name": "c4"}, "mark": {"type": "line", "interpolate": "cardinal-closed", "stroke": "#111", "strokeWidth": 1, "clip": true},
     "encoding": {"x": {"field": "x", "type": "quantitative", "scale": {"domain": [-369.18, 347.89], "nice": false, "zero": false}, "axis": {"orient": "bottom", "offset": -33, "values": [-300,-250,-200,-150,-100,-50,0,50,100,150,200,250,300], "labelExpr": "''+datum.value", "title": null}},
                  "y": {"field": "y", "type": "quantitative", "scale": {"domain": [-344.40, 333.63], "nice": false, "zero": false}, "axis": {"orient": "left", "offset": -52, "values": [-300,-250,-200,-150,-100,-50,0,50,100,150,200,250,300], "labelExpr": "''+datum.value", "title": null}},
                  "detail": {"field": "c"}, "order": {"field": "i", "type": "quantitative"}}},
    {"data": {"name": "f"}, "mark": {"type": "rect", "filled": false, "stroke": "#222", "strokeWidth": 1},
     "encoding": {"x": {"field": "x1", "type": "quantitative", "scale": {"domain": [-369.18, 347.89], "nice": false, "zero": false}, "axis": {"orient": "top", "offset": -25, "values": [-300,-250,-200,-150,-100,-50,0,50,100,150,200,250,300], "labels": false, "title": null}}, "x2": {"field": "x2"},
                  "y": {"field": "y1", "type": "quantitative", "scale": {"domain": [-344.40, 333.63], "nice": false, "zero": false}, "axis": {"orient": "right", "offset": -36, "values": [-300,-250,-200,-150,-100,-50,0,50,100,150,200,250,300], "labels": false, "title": null}}, "y2": {"field": "y2"}}},
    {"data": {"name": "l4"}, "transform": [{"calculate": "90 - atan2(datum.y, datum.x) * 180 / PI", "as": "t0"}, {"calculate": "datum.t0 > 90 ? datum.t0 - 180 : datum.t0", "as": "rot"}],
     "mark": {"type": "text", "fontSize": 11, "fontWeight": "bold", "stroke": "white", "strokeWidth": 3.5, "fill": "white", "baseline": "middle"},
     "encoding": {"x": {"field": "x", "type": "quantitative", "scale": {"domain": [-369.18, 347.89], "nice": false, "zero": false}, "axis": null}, "y": {"field": "y", "type": "quantitative", "scale": {"domain": [-344.40, 333.63], "nice": false, "zero": false}, "axis": null}, "text": {"field": "t"}, "angle": {"field": "rot", "type": "quantitative", "scale": null}}},
    {"data": {"name": "l4"}, "transform": [{"calculate": "90 - atan2(datum.y, datum.x) * 180 / PI", "as": "t0"}, {"calculate": "datum.t0 > 90 ? datum.t0 - 180 : datum.t0", "as": "rot"}],
     "mark": {"type": "text", "fontSize": 11, "fontWeight": "bold", "fill": "#000", "baseline": "middle"},
     "encoding": {"x": {"field": "x", "type": "quantitative", "scale": {"domain": [-369.18, 347.89], "nice": false, "zero": false}, "axis": null}, "y": {"field": "y", "type": "quantitative", "scale": {"domain": [-344.40, 333.63], "nice": false, "zero": false}, "axis": null}, "text": {"field": "t"}, "angle": {"field": "rot", "type": "quantitative", "scale": null}}}
   ]},
  {"width": 537, "height": 504,
   "resolve": {"axis": {"x": "independent", "y": "independent"}},
   "layer": [
    {"data": {"name": "c5"}, "mark": {"type": "line", "interpolate": "cardinal-closed", "stroke": "#111", "strokeWidth": 1, "clip": true},
     "encoding": {"x": {"field": "x", "type": "quantitative", "scale": {"domain": [-377.60, 366.51], "nice": false, "zero": false}, "axis": {"orient": "bottom", "offset": -41, "values": [-300,-250,-200,-150,-100,-50,0,50,100,150,200,250,300], "labelExpr": "''+datum.value", "title": null}},
                  "y": {"field": "y", "type": "quantitative", "scale": {"domain": [-356.55, 338.62], "nice": false, "zero": false}, "axis": {"orient": "left", "offset": -56, "values": [-300,-250,-200,-150,-100,-50,0,50,100,150,200,250,300], "labelExpr": "''+datum.value", "title": null}},
                  "detail": {"field": "c"}, "order": {"field": "i", "type": "quantitative"}}},
    {"data": {"name": "a5"}, "mark": {"type": "line", "interpolate": "cardinal", "stroke": "#111", "strokeWidth": 1, "clip": true},
     "encoding": {"x": {"field": "x", "type": "quantitative", "scale": {"domain": [-377.60, 366.51], "nice": false, "zero": false}, "axis": null},
                  "y": {"field": "y", "type": "quantitative", "scale": {"domain": [-356.55, 338.62], "nice": false, "zero": false}, "axis": null},
                  "detail": {"field": "c"}, "order": {"field": "i", "type": "quantitative"}}},
    {"data": {"name": "f"}, "mark": {"type": "rect", "filled": false, "stroke": "#222", "strokeWidth": 1},
     "encoding": {"x": {"field": "x1", "type": "quantitative", "scale": {"domain": [-377.60, 366.51], "nice": false, "zero": false}, "axis": {"orient": "top", "offset": -28, "values": [-300,-250,-200,-150,-100,-50,0,50,100,150,200,250,300], "labels": false, "title": null}}, "x2": {"field": "x2"},
                  "y": {"field": "y1", "type": "quantitative", "scale": {"domain": [-356.55, 338.62], "nice": false, "zero": false}, "axis": {"orient": "right", "offset": -48, "values": [-300,-250,-200,-150,-100,-50,0,50,100,150,200,250,300], "labels": false, "title": null}}, "y2": {"field": "y2"}}},
    {"data": {"name": "l5"}, "transform": [{"calculate": "90 - atan2(datum.y, datum.x) * 180 / PI", "as": "t0"}, {"calculate": "datum.t0 > 90 ? datum.t0 - 180 : datum.t0", "as": "rot"}],
     "mark": {"type": "text", "fontSize": 11, "fontWeight": "bold", "stroke": "white", "strokeWidth": 3.5, "fill": "white", "baseline": "middle"},
     "encoding": {"x": {"field": "x", "type": "quantitative", "scale": {"domain": [-377.60, 366.51], "nice": false, "zero": false}, "axis": null}, "y": {"field": "y", "type": "quantitative", "scale": {"domain": [-356.55, 338.62], "nice": false, "zero": false}, "axis": null}, "text": {"field": "t"}, "angle": {"field": "rot", "type": "quantitative", "scale": null}}},
    {"data": {"name": "l5"}, "transform": [{"calculate": "90 - atan2(datum.y, datum.x) * 180 / PI", "as": "t0"}, {"calculate": "datum.t0 > 90 ? datum.t0 - 180 : datum.t0", "as": "rot"}],
     "mark": {"type": "text", "fontSize": 11, "fontWeight": "bold", "fill": "#000", "baseline": "middle"},
     "encoding": {"x": {"field": "x", "type": "quantitative", "scale": {"domain": [-377.60, 366.51], "nice": false, "zero": false}, "axis": null}, "y": {"field": "y", "type": "quantitative", "scale": {"domain": [-356.55, 338.62], "nice": false, "zero": false}, "axis": null}, "text": {"field": "t"}, "angle": {"field": "rot", "type": "quantitative", "scale": null}}}
   ]},
  {"width": 530, "height": 504,
   "resolve": {"axis": {"x": "independent", "y": "independent"}},
   "layer": [
    {"data": {"name": "c6"}, "mark": {"type": "line", "interpolate": "cardinal-closed", "stroke": "#111", "strokeWidth": 1, "clip": true},
     "encoding": {"x": {"field": "x", "type": "quantitative", "scale": {"domain": [-374.31, 355.05], "nice": false, "zero": false}, "axis": {"orient": "bottom", "offset": -41, "values": [-300,-250,-200,-150,-100,-50,0,50,100,150,200,250,300], "labelExpr": "''+datum.value", "title": null}},
                  "y": {"field": "y", "type": "quantitative", "scale": {"domain": [-356.55, 338.62], "nice": false, "zero": false}, "axis": {"orient": "left", "offset": -54, "values": [-300,-250,-200,-150,-100,-50,0,50,100,150,200,250,300], "labelExpr": "''+datum.value", "title": null}},
                  "detail": {"field": "c"}, "order": {"field": "i", "type": "quantitative"}}},
    {"data": {"name": "a6"}, "mark": {"type": "line", "interpolate": "cardinal", "stroke": "#111", "strokeWidth": 1, "clip": true},
     "encoding": {"x": {"field": "x", "type": "quantitative", "scale": {"domain": [-374.31, 355.05], "nice": false, "zero": false}, "axis": null},
                  "y": {"field": "y", "type": "quantitative", "scale": {"domain": [-356.55, 338.62], "nice": false, "zero": false}, "axis": null},
                  "detail": {"field": "c"}, "order": {"field": "i", "type": "quantitative"}}},
    {"data": {"name": "f"}, "mark": {"type": "rect", "filled": false, "stroke": "#222", "strokeWidth": 1},
     "encoding": {"x": {"field": "x1", "type": "quantitative", "scale": {"domain": [-374.31, 355.05], "nice": false, "zero": false}, "axis": {"orient": "top", "offset": -28, "values": [-300,-250,-200,-150,-100,-50,0,50,100,150,200,250,300], "labels": false, "title": null}}, "x2": {"field": "x2"},
                  "y": {"field": "y1", "type": "quantitative", "scale": {"domain": [-356.55, 338.62], "nice": false, "zero": false}, "axis": {"orient": "right", "offset": -40, "values": [-300,-250,-200,-150,-100,-50,0,50,100,150,200,250,300], "labels": false, "title": null}}, "y2": {"field": "y2"}}},
    {"data": {"name": "l6"}, "transform": [{"calculate": "90 - atan2(datum.y, datum.x) * 180 / PI", "as": "t0"}, {"calculate": "datum.t0 > 90 ? datum.t0 - 180 : datum.t0", "as": "rot"}],
     "mark": {"type": "text", "fontSize": 11, "fontWeight": "bold", "stroke": "white", "strokeWidth": 3.5, "fill": "white", "baseline": "middle"},
     "encoding": {"x": {"field": "x", "type": "quantitative", "scale": {"domain": [-374.31, 355.05], "nice": false, "zero": false}, "axis": null}, "y": {"field": "y", "type": "quantitative", "scale": {"domain": [-356.55, 338.62], "nice": false, "zero": false}, "axis": null}, "text": {"field": "t"}, "angle": {"field": "rot", "type": "quantitative", "scale": null}}},
    {"data": {"name": "l6"}, "transform": [{"calculate": "90 - atan2(datum.y, datum.x) * 180 / PI", "as": "t0"}, {"calculate": "datum.t0 > 90 ? datum.t0 - 180 : datum.t0", "as": "rot"}],
     "mark": {"type": "text", "fontSize": 11, "fontWeight": "bold", "fill": "#000", "baseline": "middle"},
     "encoding": {"x": {"field": "x", "type": "quantitative", "scale": {"domain": [-374.31, 355.05], "nice": false, "zero": false}, "axis": null}, "y": {"field": "y", "type": "quantitative", "scale": {"domain": [-356.55, 338.62], "nice": false, "zero": false}, "axis": null}, "text": {"field": "t"}, "angle": {"field": "rot", "type": "quantitative", "scale": null}}}
   ]}
],
"columns": 4, "spacing": 0, "bounds": "flush"
}
